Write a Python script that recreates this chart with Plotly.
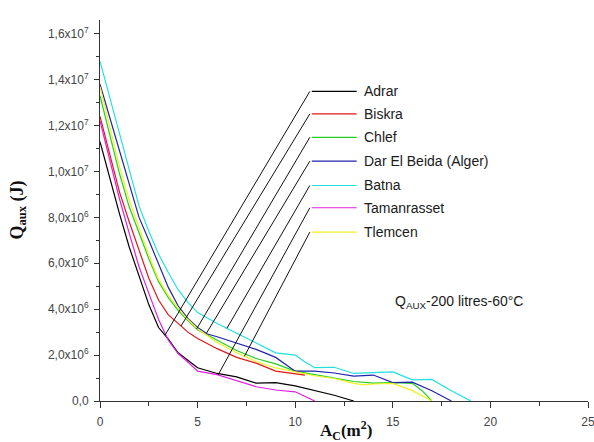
import numpy as np
import plotly.graph_objects as go

# ---------------- data (Q in J, A_C in m2) ----------------
names = ["Adrar", "Biskra", "Chlef", "Dar El Beida (Alger)", "Batna", "Tamanrasset", "Tlemcen"]
colors = ["#000000", "#e01818", "#22d022", "#2222b0", "#22e0e0", "#e020e0", "#f2f020"]

adrar_x = [0, 0.5, 1, 1.5, 2, 2.5, 3, 3.5, 4, 5, 6, 7, 8, 9, 10, 11, 12, 13]
adrar_y = [11.3, 9.7, 8.15, 6.7, 5.4, 4.2, 3.2, 2.7, 2.1, 1.45, 1.2, 1.05, 0.78, 0.8, 0.66, 0.45, 0.25, 0.0]

biskra_x = [0, 1, 1.5, 2, 2.5, 3, 3.5, 4, 4.5, 5, 5.5, 6, 7, 8, 9, 10, 10.5]
biskra_y = [12.4, 9.1, 7.8, 6.55, 5.35, 4.4, 3.75, 3.38, 3.0, 2.72, 2.5, 2.28, 1.9, 1.65, 1.3, 1.18, 1.13]

chlef_x = [0, 1, 1.5, 2, 2.5, 3, 3.5, 4, 4.5, 5, 6, 7, 8, 9, 10, 11, 12, 13, 14, 15, 16, 16.5, 17]
chlef_y = [13.3, 9.9, 8.45, 7.3, 6.2, 5.2, 4.5, 3.95, 3.5, 3.1, 2.65, 2.2, 1.85, 1.62, 1.3, 1.15, 1.0, 0.85, 0.78, 0.8, 0.77, 0.45, 0.0]

dar_x = [0, 1, 2, 2.5, 3, 3.5, 4, 4.5, 5, 5.5, 6, 7, 8, 9, 10, 11, 12, 13, 14, 15, 16, 17, 18]
dar_y = [13.8, 10.85, 8.0, 7.0, 5.95, 4.95, 4.15, 3.6, 3.2, 2.92, 2.8, 2.52, 2.25, 1.9, 1.3, 1.3, 1.22, 1.08, 1.13, 0.8, 0.82, 0.45, 0.0]

batna_x = [0, 1, 2, 2.5, 3, 3.5, 4, 4.5, 5, 6, 7, 8, 9, 10, 10.5, 11, 12, 13, 14, 15, 16, 17, 18, 19]
batna_y = [14.8, 11.6, 8.5, 7.4, 6.4, 5.6, 4.85, 4.3, 3.85, 3.38, 2.95, 2.5, 2.1, 2.0, 1.7, 1.45, 1.47, 1.2, 1.25, 1.27, 0.92, 0.94, 0.45, 0.0]

taman_x = [0, 1, 1.5, 2, 2.5, 3, 3.5, 4, 4.5, 5, 6, 7, 8, 9, 10, 11]
taman_y = [12.2, 8.8, 7.3, 5.85, 4.7, 3.55, 2.65, 2.07, 1.7, 1.3, 1.15, 0.88, 0.62, 0.48, 0.4, 0.0]

tlem_x = [0, 1, 1.5, 2, 2.5, 3, 3.5, 4, 4.5, 5, 6, 7, 8, 9, 10, 11, 12, 13, 13.5, 14, 15, 16, 17]
tlem_y = [13.7, 10.2, 8.75, 7.5, 6.35, 5.3, 4.6, 4.05, 3.55, 3.15, 2.55, 2.1, 1.72, 1.44, 1.27, 1.1, 0.98, 0.77, 0.7, 0.74, 0.77, 0.45, 0.0]

series_x = [adrar_x, biskra_x, chlef_x, dar_x, batna_x, taman_x, tlem_x]
series_y = [adrar_y, biskra_y, chlef_y, dar_y, batna_y, taman_y, tlem_y]

# where each leader line touches its curve (A_C, m2)
leader_at = [3.33, 4.15, 4.95, 5.45, 6.5, 6.05, 7.4]

y_tickvals = [0, 2e6, 4e6, 6e6, 8e6, 1.0e7, 1.2e7, 1.4e7, 1.6e7]
y_ticktext = ["0,0", "2,0x10<sup>6</sup>", "4,0x10<sup>6</sup>", "6,0x10<sup>6</sup>",
              "8,0x10<sup>6</sup>", "1,0x10<sup>7</sup>", "1,2x10<sup>7</sup>",
              "1,4x10<sup>7</sup>", "1,6x10<sup>7</sup>"]
x_tickvals = [0, 5, 10, 15, 20, 25]

# ---------------- figure ----------------
fig = go.Figure()
for xs, ys, c, n in zip(series_x, series_y, colors, names):
    fig.add_trace(go.Scatter(x=xs, y=[v * 1e6 for v in ys], mode="lines", name=n,
                             line=dict(color=c, width=1.2), showlegend=False))

# custom legend with leader lines
leg_line_x0, leg_line_x1, leg_text_x, leader_x0 = 10.85, 13.15, 13.4, 10.75
leg_rows = [13.49e6, 12.51e6, 11.49e6, 10.45e6, 9.39e6, 8.42e6, 7.36e6]
shapes = []
annotations = []
for xs, ys, c, n, yr, la in zip(series_x, series_y, colors, names, leg_rows, leader_at):
    shapes.append(dict(type="line", xref="x", yref="y", x0=leg_line_x0, x1=leg_line_x1,
                       y0=yr, y1=yr, line=dict(color=c, width=1.2)))
    yc = float(np.interp(la, xs, ys)) * 1e6
    shapes.append(dict(type="line", xref="x", yref="y", x0=leader_x0, y0=yr, x1=la, y1=yc,
                       line=dict(color="#111111", width=1)))
    annotations.append(dict(x=leg_text_x, y=yr, xref="x", yref="y", text=n, showarrow=False,
                            xanchor="left", yanchor="middle",
                            font=dict(family="Liberation Sans, Arial", size=14, color="#1a1a1a")))

annotations.append(dict(x=15.0, y=4.32e6, xref="x", yref="y",
                        text="Q<sub>AUX</sub>-200 litres-60°C", showarrow=False,
                        xanchor="left", yanchor="middle",
                        font=dict(family="Liberation Sans, Arial", size=14, color="#1a1a1a")))
annotations.append(dict(x=-0.168, y=0.50, xref="paper", yref="paper",
                        text="<b>Q<sub>aux</sub> (J)</b>", showarrow=False, textangle=-90,
                        xanchor="center", yanchor="middle",
                        font=dict(family="Liberation Serif, Times New Roman", size=18, color="#111111")))
annotations.append(dict(x=0.505, y=-0.078, xref="paper", yref="paper",
                        text="<b>A<sub>C</sub>(m<sup>2</sup>)</b>", showarrow=False,
                        xanchor="center", yanchor="middle",
                        font=dict(family="Liberation Serif, Times New Roman", size=17, color="#111111")))

fig.update_layout(
    width=594, height=442,
    margin=dict(l=100, r=6, t=20, b=41, autoexpand=False),
    paper_bgcolor="white", plot_bgcolor="white",
    shapes=shapes, annotations=annotations,
    xaxis=dict(range=[0, 25], tickvals=x_tickvals, ticks="outside", ticklen=6, tickwidth=1,
               tickcolor="#333333", showline=True, linecolor="#333333", linewidth=1,
               showgrid=False, zeroline=False, ticklabeloverflow="allow", ticklabelstandoff=4,
               automargin=False,
               tickfont=dict(family="Liberation Sans, Arial", size=12, color="#444444"),
               minor=dict(dtick=2.5, ticks="outside", ticklen=4, tickcolor="#333333", showgrid=False)),
    yaxis=dict(range=[0, 1.66e7], tickvals=y_tickvals, ticktext=y_ticktext, ticks="outside",
               ticklen=5, tickwidth=1, tickcolor="#333333", showline=True, linecolor="#333333",
               linewidth=1, showgrid=False, zeroline=False, ticklabelstandoff=3, automargin=False,
               tickfont=dict(family="Liberation Sans, Arial", size=12, color="#444444"),
               minor=dict(dtick=1e6, ticks="outside", ticklen=3, tickcolor="#333333", showgrid=False)),
)

fig.write_html("out.html")
